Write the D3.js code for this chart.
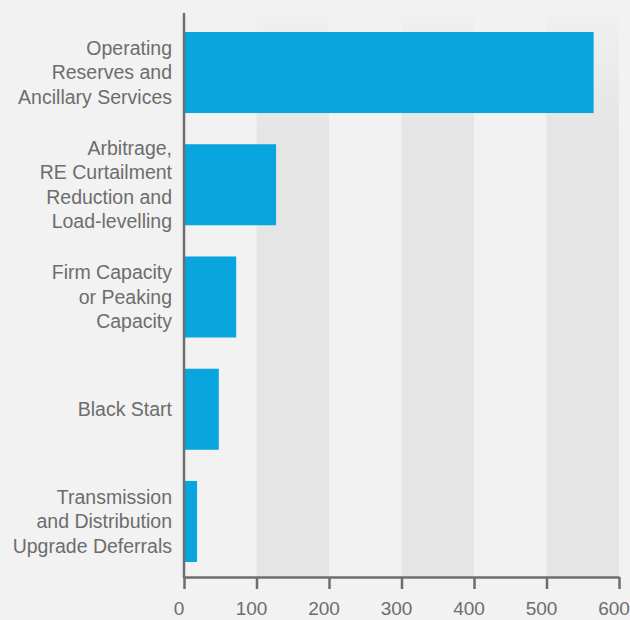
<!DOCTYPE html>
<html><head><meta charset="utf-8">
<script src="https://cdn.jsdelivr.net/npm/d3@7"></script>
<style>body{margin:0;background:#f2f2f2;}svg{display:block;}</style>
</head><body>
<script>
const categories = [
  ["Operating","Reserves and","Ancillary Services"],
  ["Arbitrage,","RE Curtailment","Reduction and","Load-levelling"],
  ["Firm Capacity","or Peaking","Capacity"],
  ["Black Start"],
  ["Transmission","and Distribution","Upgrade Deferrals"]
];
const values = [565, 127, 72, 48, 18];
const tickValues = [0,100,200,300,400,500,600];

const W=630,H=620;
const FONT="'Liberation Sans', Arial, Helvetica, sans-serif";
const svg=d3.select("body").append("svg").attr("width",W).attr("height",H);
svg.append("rect").attr("width",W).attr("height",H).attr("fill","#f2f2f2");

const x=d3.scaleLinear().domain([0,600]).range([184,619]);
const ids=categories.map((c,i)=>i);
const y=d3.scaleBand().domain(ids).range([16,578]).paddingInner(0.278).paddingOuter(0.1425);

const defs=svg.append("defs");
const g=defs.append("linearGradient").attr("id","bandg").attr("x1",0).attr("x2",0).attr("y1",0).attr("y2",1);
g.append("stop").attr("offset","0").attr("stop-color","#f0f0f0");
g.append("stop").attr("offset","0.2").attr("stop-color","#e5e5e5");
g.append("stop").attr("offset","1").attr("stop-color","#e5e5e5");

// alternating bands
const bandStarts=[100,300,500];
svg.selectAll("rect.band").data(bandStarts).enter().append("rect")
  .attr("x",d=>x(d)).attr("width",d=>x(d+100)-x(d))
  .attr("y",17).attr("height",577-17).attr("fill","url(#bandg)");

// bars
svg.selectAll("rect.bar").data(values).enter().append("rect")
  .attr("x",x(0)).attr("y",(d,i)=>y(i)).attr("height",y.bandwidth())
  .attr("width",d=>x(d)-x(0)).attr("fill","#09a5df");

const axisColor="#6e6e6e";
// x axis
const xa=svg.append("g").attr("transform","translate(0,577)")
  .call(d3.axisBottom(x).tickValues(tickValues).tickSize(12).tickSizeOuter(0).tickPadding(16));
xa.select(".domain").attr("stroke",axisColor).attr("stroke-width",2.5);
xa.selectAll(".tick line").attr("stroke",axisColor).attr("stroke-width",2.5);
xa.selectAll(".tick text").attr("fill","#6d6d6d").style("font-size","19px")
  .style("font-family",FONT).attr("dx",-5.5).attr("dy","0.5em");

// y axis line
svg.append("line").attr("x1",x(0)).attr("x2",x(0)).attr("y1",13).attr("y2",578)
  .attr("stroke",axisColor).attr("stroke-width",2.5);

// category labels
const lh=24.4;
categories.forEach((lines,i)=>{
  const cy=y(i)+y.bandwidth()/2;
  const t=svg.append("text").attr("text-anchor","end").attr("fill","#6d6d6d")
    .style("font-size","19.5px").style("font-family",FONT);
  lines.forEach((l,j)=>{
    t.append("tspan").attr("x",172).attr("y",cy+(j-(lines.length-1)/2)*lh).attr("dy","0.35em").text(l);
  });
});
</script>
</body></html>
